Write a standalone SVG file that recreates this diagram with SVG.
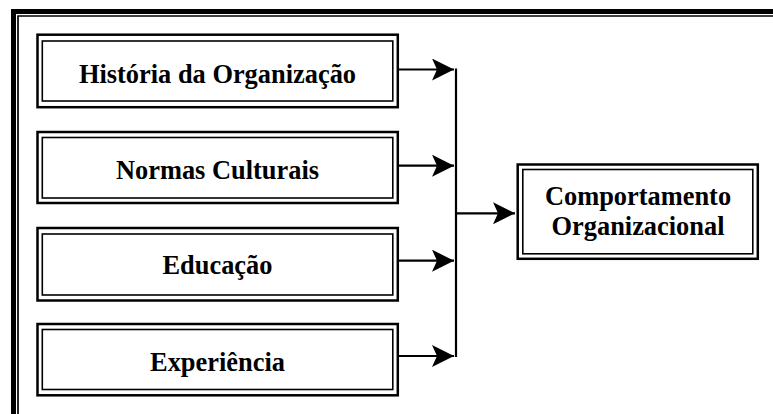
<svg xmlns="http://www.w3.org/2000/svg" width="773" height="414" viewBox="0 0 773 414">
<style>
.outer{fill:none;stroke:#000;stroke-width:2.5}
.inner{fill:none;stroke:#000;stroke-width:1.6}
.lbl{font-family:"Liberation Serif","Times New Roman",serif;font-weight:bold;font-size:26.4px;fill:#000;text-anchor:middle}
.con{fill:none;stroke:#000;stroke-width:2.2}
</style>
<defs>
<marker id="ah" markerUnits="userSpaceOnUse" markerWidth="24" markerHeight="24" refX="22" refY="11" orient="auto" viewBox="0 0 24 24">
<path d="M0,0 L22,11 L0,22 L5,11 z" fill="#000"/>
</marker>
</defs>
<rect width="773" height="414" fill="#fff"/>
<g id="frame">
<path d="M13.5,430 V11.5 H790" fill="none" stroke="#000" stroke-width="5"/>
<path d="M18,430 V16 H790" fill="none" stroke="#000" stroke-width="1.7"/>
</g>
<g id="n1">
<rect class="outer" x="37.5" y="34.7" width="360.3" height="72.5"/>
<rect class="inner" x="42.3" y="41" width="350.5" height="60"/>
<text class="lbl" x="217.5" y="83.3">História da Organização</text>
</g>
<g id="n2">
<rect class="outer" x="37.5" y="132" width="360.3" height="71"/>
<rect class="inner" x="42.3" y="137.5" width="350.5" height="60.5"/>
<text class="lbl" x="217.5" y="179.3">Normas Culturais</text>
</g>
<g id="n3">
<rect class="outer" x="37.5" y="228" width="360.3" height="72.5"/>
<rect class="inner" x="42.3" y="234" width="350.5" height="61"/>
<text class="lbl" x="217.5" y="274">Educação</text>
</g>
<g id="n4">
<rect class="outer" x="37.5" y="324" width="360.3" height="71.3"/>
<rect class="inner" x="42.3" y="329.5" width="350.5" height="60"/>
<text class="lbl" x="217.5" y="371">Experiência</text>
</g>
<g id="n5">
<rect class="outer" x="517.7" y="164.5" width="240.1" height="94.3"/>
<rect class="inner" x="522.8" y="169.5" width="230" height="84.3"/>
<text class="lbl" x="638" y="205">Comportamento</text>
<text class="lbl" x="638" y="235">Organizacional</text>
</g>
<g id="connectors">
<line class="con" x1="399" y1="69.5" x2="454" y2="69.5" marker-end="url(#ah)"/>
<line class="con" x1="399" y1="165.7" x2="454" y2="165.7" marker-end="url(#ah)"/>
<line class="con" x1="399" y1="260.7" x2="454" y2="260.7" marker-end="url(#ah)"/>
<line class="con" x1="399" y1="356" x2="454" y2="356" marker-end="url(#ah)"/>
<line class="con" x1="456" y1="68.4" x2="456" y2="357.1"/>
<line class="con" x1="457" y1="213.3" x2="515" y2="213.3" marker-end="url(#ah)"/>
</g>
</svg>
